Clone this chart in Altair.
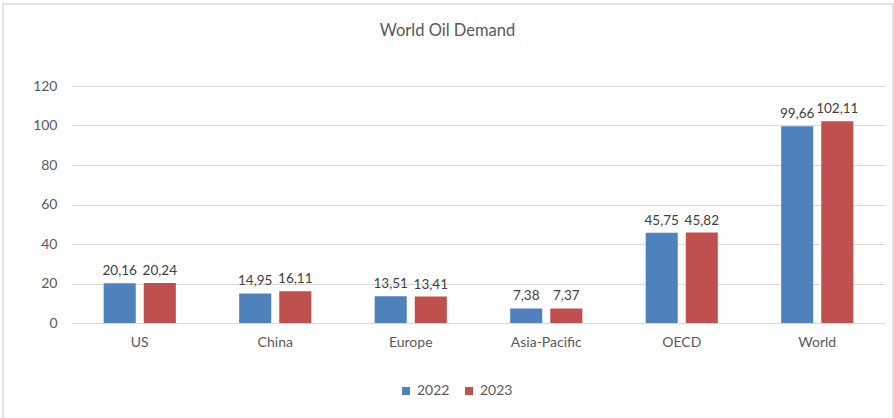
import altair as alt
import pandas as pd

regions = ["US", "China", "Europe", "Asia-Pacific", "OECD", "World"]
years = ["2022", "2023"]
demand_2022 = [20.16, 14.95, 13.51, 7.38, 45.75, 99.66]
demand_2023 = [20.24, 16.11, 13.41, 7.37, 45.82, 102.11]
y_ticks = [0, 20, 40, 60, 80, 100, 120]

rows = []
for i, r in enumerate(regions):
    for y, vals in zip(years, [demand_2022, demand_2023]):
        v = vals[i]
        rows.append({"region": r, "year": y, "value": v,
                     "label": f"{v:.2f}".replace(".", ",")})
df = pd.DataFrame(rows)

FONT = "Lato"
W, H = 813, 237

y_axis = alt.Axis(title=None, values=y_ticks, labelOverlap=False,
                  domain=False, ticks=False, grid=True, gridColor="#d9d9d9",
                  labelFontSize=14, labelColor="#595959", labelPadding=15,
                  labelFont=FONT)

base = alt.Chart(df).encode(
    x=alt.X("region:N", sort=regions,
            scale=alt.Scale(paddingInner=0, paddingOuter=0),
            axis=alt.Axis(title=None, labelAngle=0, ticks=False, domainColor="#d9d9d9",
                          labelFontSize=14, labelColor="#595959", labelPadding=12,
                          labelFont=FONT)),
    xOffset=alt.XOffset("year:N", sort=years,
                        scale=alt.Scale(paddingInner=0.2, paddingOuter=0.79)),
    y=alt.Y("value:Q", scale=alt.Scale(domain=[0, 120], nice=False), axis=y_axis),
)

bars = base.mark_bar().encode(
    color=alt.Color("year:N", sort=years,
                    scale=alt.Scale(domain=years, range=["#4f81bd", "#c0504d"]),
                    legend=alt.Legend(title=None, orient="none", direction="horizontal",
                                      legendX=327, legendY=298, symbolType="square",
                                      symbolSize=64, labelFontSize=14, labelColor="#595959",
                                      labelFont=FONT, columnPadding=12, symbolStrokeWidth=0)),
)

labels = base.mark_text(dy=-12, fontSize=13.5, color="#404040", font=FONT).encode(
    text="label:N",
)

title = alt.Chart(alt.Data(values=[{"t": "World Oil Demand"}])).mark_text(
    fontSize=16.5, color="#595959", font=FONT
).encode(x=alt.value(W / 2 - 31), y=alt.value(-55), text="t:N")

frame = alt.Chart(alt.Data(values=[{"a": 1}])).mark_rect(
    fill=None, stroke="#d9d9d9", strokeWidth=1.5
).encode(x=alt.value(-69), x2=alt.value(821), y=alt.value(-82), y2=alt.value(400))

chart = alt.layer(frame, bars, labels, title).properties(
    width=W, height=H,
    background="white",
    autosize=alt.AutoSizeParams(type="none"),
    padding={"left": 72, "top": 86, "right": 9, "bottom": 95},
).configure_view(stroke=None)

chart.save("out.html", embed_options={"renderer": "svg", "actions": False})
